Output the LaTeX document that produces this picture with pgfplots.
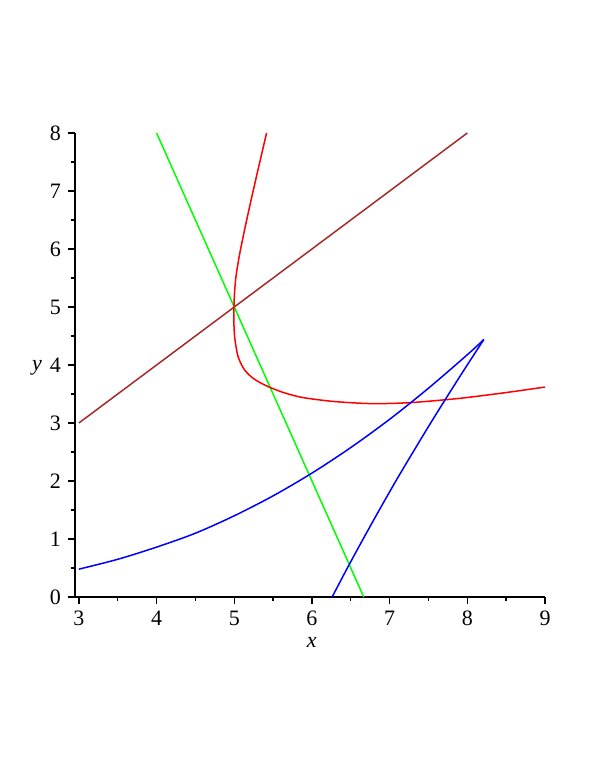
\documentclass[border=0pt]{standalone}
\usepackage{fontspec}
\setmainfont{Liberation Serif}
\usepackage{pgfplots}
\pgfplotsset{compat=1.18}
\definecolor{mbrown}{RGB}{165,42,42}
\begin{document}
\begin{tikzpicture}
\path[use as bounding box] (-37.5pt,-86.5pt) rectangle (260pt,298.5pt);
\begin{axis}[
  scale only axis, width=235pt, height=232pt,
  xmin=2.95, xmax=9, ymin=0, ymax=8,
  axis lines=left, axis line style={-, line width=0.7pt},
  xtick={3,...,9}, ytick={0,...,8}, minor tick num=1,
  tick align=outside, major tick length=3.5pt, minor tick length=2pt,
  tick style={black, line width=0.7pt},
  /pgf/number format/assume math mode=true,
  ticklabel style={font=\fontsize{11}{12}\selectfont},
  every axis x label/.style={at={(axis description cs:0.504,-0.099)}, anchor=center},
  every axis y label/.style={at={(axis description cs:-0.081,0.494)}, anchor=center},
  xlabel={\fontsize{11}{12}\selectfont\textit{x}},
  ylabel={\fontsize{11}{12}\selectfont\textit{y}},
  clip=false,
]
% brown line y = x
\addplot[mbrown, line width=0.75pt] coordinates {(3,3) (8,8)};
% green line
\addplot[green, line width=0.75pt] coordinates {(4,8) (6.667,0)};
% red curve
\addplot[red, line width=0.75pt, smooth, tension=0.55] coordinates {
(5.416,8.0) (5.329,7.5) (5.243,7.0) (5.160,6.5) (5.082,6.0) (5.048,5.75)
(5.020,5.5) (5.004,5.25) (4.996,5.0) (4.995,4.75) (5.004,4.5) (5.025,4.3)
(5.050,4.14) (5.095,4.0) (5.137,3.91) (5.190,3.83) (5.244,3.77) (5.340,3.69)
(5.450,3.62) (5.560,3.56) (5.670,3.51) (5.840,3.45) (6.000,3.415) (6.250,3.375)
(6.500,3.35) (6.750,3.335) (7.000,3.337) (7.250,3.35) (7.500,3.375) (7.750,3.405)
(8.000,3.44) (8.500,3.525) (9.000,3.62)};
% blue curve, lower branch
\addplot[blue, line width=0.75pt, smooth, tension=0.5] coordinates {
(3.0,0.48) (3.5,0.65) (4.0,0.86) (4.5,1.10) (5.0,1.40) (5.5,1.744)
(6.0,2.136) (6.5,2.577) (7.0,3.064) (7.5,3.60) (8.0,4.177) (8.213,4.44)};
% blue curve, returning branch
\addplot[blue, line width=0.75pt, smooth, tension=0.5] coordinates {
(8.213,4.44) (7.999,4.0) (7.761,3.5) (7.528,3.0) (7.302,2.5) (7.08,2.0)
(6.867,1.5) (6.659,1.0) (6.456,0.5) (6.26,0)};
\end{axis}
\end{tikzpicture}
\end{document}
